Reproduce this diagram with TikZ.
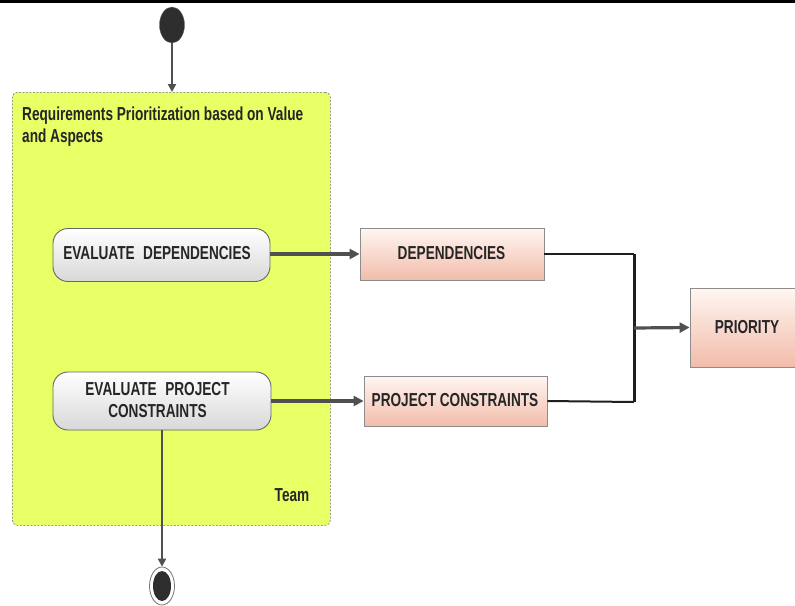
\documentclass[tikz,border=0pt]{standalone}
\usepackage{fontspec}
\setmainfont{Liberation Sans}
\newfontfamily\nar[FakeStretch=0.725]{Liberation Sans}
\usetikzlibrary{arrows.meta,calc,shapes.geometric}
\definecolor{lane}{RGB}{232,255,102}
\definecolor{lanebd}{RGB}{110,110,110}
\definecolor{conn}{RGB}{80,80,80}
\definecolor{pinktop}{RGB}{255,246,242}
\definecolor{pinkbot}{RGB}{242,188,170}
\definecolor{graybot}{RGB}{216,216,216}
\begin{document}
\begin{tikzpicture}[x=1pt,y=-1pt,
  txt/.style={font=\nar\bfseries\fontsize{18.8}{22}\selectfont, text=black!85, inner sep=0pt},
  actbox/.style={draw=black!60, line width=0.9pt, rounded corners=15pt,
     top color=white, bottom color=graybot, inner sep=0pt},
  objbox/.style={draw=black!45, line width=0.8pt,
     top color=pinktop, bottom color=pinkbot, inner sep=0pt},
  flow/.style={draw=conn, line width=3.2pt, -{Triangle[length=10pt,width=10pt]}},
  joinline/.style={draw=black!88, line width=2pt},
]
\useasboundingbox (0,0) rectangle (795,605);
\fill[white] (0,0) rectangle (795,605);
\fill[black] (0,0) rectangle (795,2.5);

% swimlane
\node[draw=lanebd, dashed, dash pattern=on 2pt off 1.5pt, line width=0.6pt, fill=lane,
  rounded corners=5pt, minimum width=318pt, minimum height=433pt, inner sep=0pt,
  anchor=north west] (lane) at (12,92) {};
\node[txt, anchor=base west, align=left] (title) at (22,142)
  {Requirements Prioritization based on Value\\and Aspects};
\node[txt, anchor=base] (team) at (292,501) {Team};

% start / end
\node[ellipse, fill=black!82, draw=black!60, minimum width=25pt, minimum height=36pt, inner sep=0pt] (start) at (172,25) {};
\node[ellipse, fill=white, draw=black!55, line width=0.8pt, minimum width=25pt, minimum height=38pt, inner sep=0pt] (end) at (162,586) {};
\node[ellipse, fill=black!82, minimum width=18pt, minimum height=30pt, inner sep=0pt] (endin) at (162,586) {};

% activities
\node[actbox, minimum width=217pt, minimum height=53pt] (evdep) at (161.5,255) {};
\node[txt, anchor=base] (evdeptxt) at (157,259) {EVALUATE\hspace{0.45em}DEPENDENCIES};
\node[actbox, minimum width=218pt, minimum height=58pt] (evpc) at (162,401) {};
\node[txt, anchor=base, align=center] (evpctxt) at (157.5,417) {EVALUATE\hspace{0.45em}PROJECT\\CONSTRAINTS};

% objects
\node[objbox, minimum width=184pt, minimum height=52pt] (dep) at (452,254) {};
\node[txt, anchor=base] (deptxt) at (451.5,259) {DEPENDENCIES};
\node[objbox, minimum width=183pt, minimum height=50pt] (pc) at (455.5,401) {};
\node[txt, anchor=base] (pctxt) at (455,406) {PROJECT CONSTRAINTS};
\node[objbox, minimum width=106pt, minimum height=79pt] (prio) at (743,327.5) {};
\node[txt, anchor=base] (priotxt) at (747,333) {PRIORITY};

\coordinate (jt) at (634,254);
\coordinate (jb) at (634,402);
\coordinate (jm) at (634,328);

% flows
\draw[flow, line width=2.6pt, -{Triangle[length=8pt,width=8pt]}] (start.south) -- (lane.north -| start.south);
\draw[flow] (evdep.east |- dep.west) -- (dep.west);
\draw[flow] (evpc.east |- pc.west) -- (pc.west);
\draw[flow, line width=2.6pt, -{Triangle[length=8pt,width=8pt]}] (evpc.south) -- (end.north);
\draw[joinline] (dep.east) -- (jt);
\draw[joinline] (pc.east) -- (jb);
\draw[joinline, line width=3pt] (jt) -- (jb);
\draw[flow] (jm) -- (prio.west);
\end{tikzpicture}
\end{document}
